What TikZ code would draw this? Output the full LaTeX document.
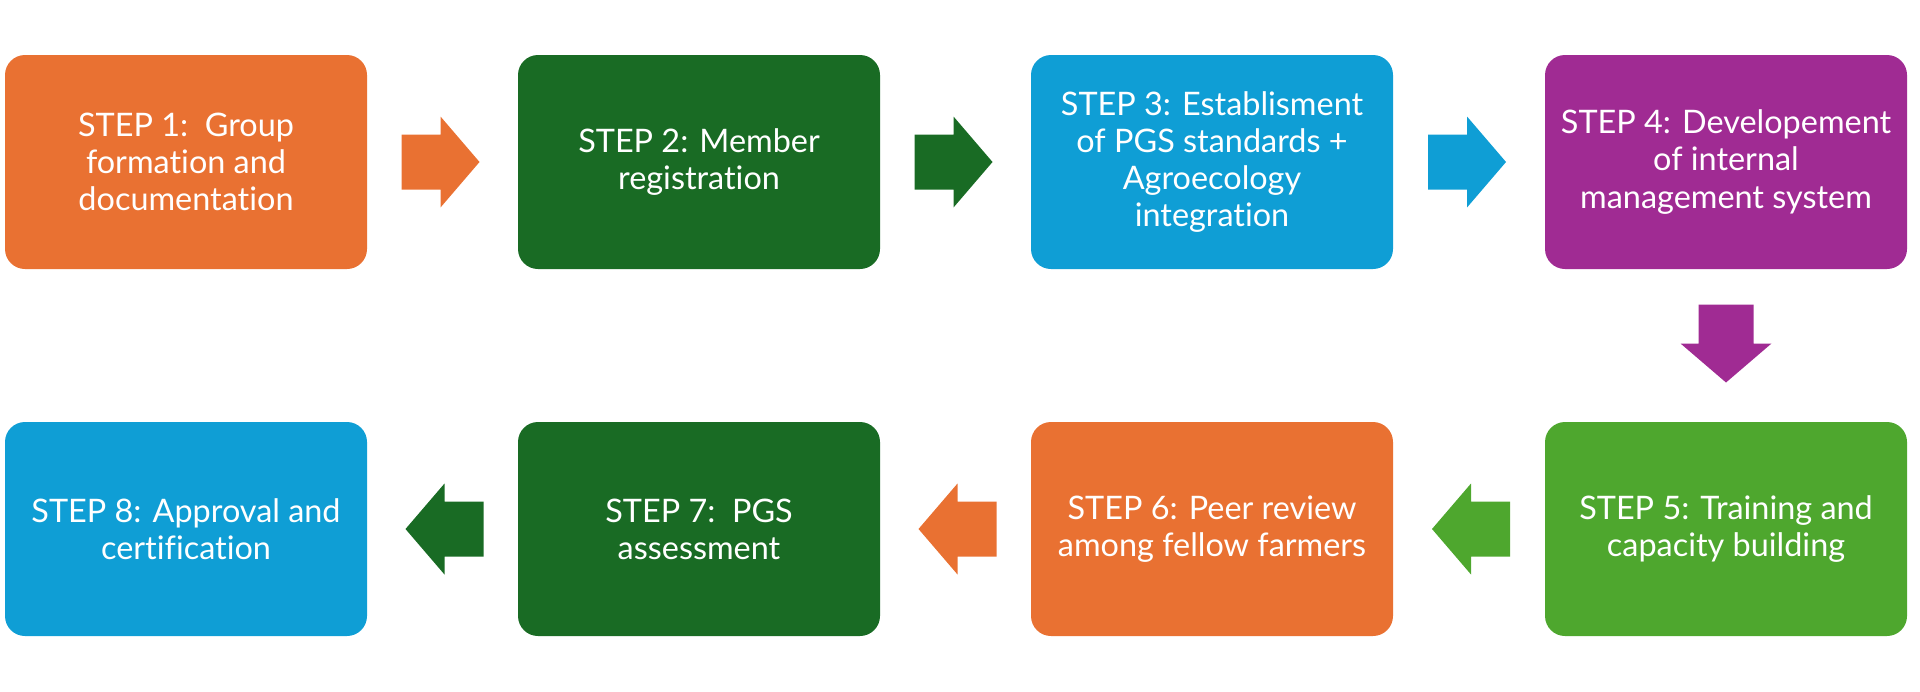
\documentclass[tikz,border=0pt]{standalone}
\usepackage{fontspec}
\setmainfont[Ligatures={NoCommon}]{Lato}
\usetikzlibrary{calc}
\definecolor{cOrange}{HTML}{E97132}
\definecolor{cDark}{HTML}{196B24}
\definecolor{cBlue}{HTML}{0F9ED5}
\definecolor{cPurple}{HTML}{A02B93}
\definecolor{cGreen}{HTML}{4EA72E}
\tikzset{
  stepbox/.style={rectangle, rounded corners=10pt, minimum width=181pt, minimum height=107pt,
    inner sep=0pt, text=white, align=center, font=\fontsize{16.2}{18.6}\selectfont},
  blockarrow/.pic={\path[pic actions] (-39,-27.5) -- (0,-27.5) -- (0,-45.5) -- (39,0) -- (0,45.5) -- (0,27.5) -- (-39,27.5) -- cycle;}
}
\begin{document}
\begin{tikzpicture}[x=0.5pt,y=-0.5pt]
\useasboundingbox (0,0) rectangle (1920,691);
\node[stepbox, fill=cOrange] (b1) at (186,162) {STEP 1:\ \ Group\\formation and\\documentation};
\node[stepbox, fill=cDark] (b2) at (699,162) {STEP 2: Member\\registration};
\node[stepbox, fill=cBlue] (b3) at (1212,162) {STEP 3: Establisment\\of PGS standards +\\Agroecology\\integration};
\node[stepbox, fill=cPurple] (b4) at (1726,162) {STEP 4: Developement\\of internal\\management system};
\node[stepbox, fill=cGreen] (b5) at (1726,529) {STEP 5: Training and\\capacity building};
\node[stepbox, fill=cOrange] (b6) at (1212,529) {STEP 6: Peer review\\among fellow farmers};
\node[stepbox, fill=cDark] (b7) at (699,529) {STEP 7:\ \ PGS\\assessment};
\node[stepbox, fill=cBlue] (b8) at (186,529) {STEP 8: Approval and\\certification};

\coordinate (a12) at ($(b1.east)!0.5!(b2.west)+(-2,0)$);
\coordinate (a23) at ($(b2.east)!0.5!(b3.west)+(-2,0)$);
\coordinate (a34) at ($(b3.east)!0.5!(b4.west)+(-2,0)$);
\coordinate (a45) at ($(b4.south)!0.5!(b5.north)+(0,-2)$);
\coordinate (a56) at ($(b5.west)!0.5!(b6.east)+(2,0)$);
\coordinate (a67) at ($(b6.west)!0.5!(b7.east)+(2,0)$);
\coordinate (a78) at ($(b7.west)!0.5!(b8.east)+(2,0)$);

\pic[fill=cOrange] at (a12) {blockarrow};
\pic[fill=cDark] at (a23) {blockarrow};
\pic[fill=cBlue] at (a34) {blockarrow};
\pic[fill=cPurple, rotate=-90] at (a45) {blockarrow};
\pic[fill=cGreen, rotate=180] at (a56) {blockarrow};
\pic[fill=cOrange, rotate=180] at (a67) {blockarrow};
\pic[fill=cDark, rotate=180] at (a78) {blockarrow};
\end{tikzpicture}
\end{document}
